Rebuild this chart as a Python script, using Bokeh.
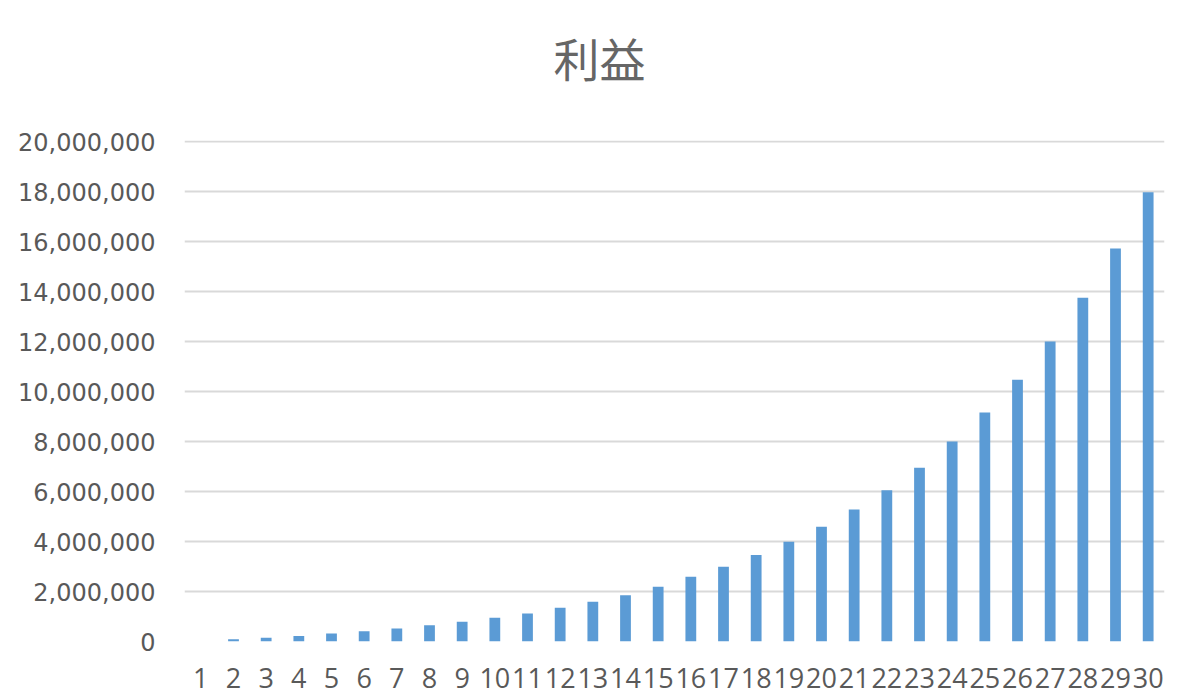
from bokeh.plotting import figure
from bokeh.layouts import column
from bokeh.models import FactorRange, Range1d, FixedTicker, NumeralTickFormatter, ColumnDataSource
from bokeh.core.properties import value
from bokeh.embed import file_html
from bokeh.resources import INLINE

title_text = "利益"
years = [str(i) for i in range(1, 31)]
profit = [0, 90000, 150000, 220000, 320000, 410000, 520000, 650000, 790000, 950000,
          1120000, 1350000, 1590000, 1850000, 2190000, 2590000, 2990000, 3460000, 3990000, 4590000,
          5280000, 6050000, 6950000, 8000000, 9160000, 10470000, 12000000, 13750000, 15720000, 17970000]
y_ticks = [0, 2000000, 4000000, 6000000, 8000000, 10000000, 12000000, 14000000, 16000000, 18000000, 20000000]

# title strip (its own figure; its frame is aligned with the chart frame, 184..1164 px)
head = figure(width=1190, height=100, x_range=Range1d(184, 1164), y_range=Range1d(0, 100),
              output_backend="svg", toolbar_location=None,
              x_axis_location=None, y_axis_location=None,
              min_border_left=0, min_border_right=0, min_border_top=0, min_border_bottom=0)
head.outline_line_color = None
head.xgrid.visible = False
head.ygrid.visible = False
head.text(x=[599], y=[44], text=[title_text], text_align="center", text_baseline="middle",
          text_font=value("Noto Sans CJK JP"), text_font_size="46px", text_color="#666666")

source = ColumnDataSource(dict(x=years, y=profit))

p = figure(width=1190, height=598, x_range=FactorRange(*years, range_padding=0),
           y_range=Range1d(0, 20040000), output_backend="svg", toolbar_location=None,
           min_border_left=184, min_border_right=26, min_border_top=40, min_border_bottom=57)

p.vbar(x="x", top="y", width=0.33, source=source, fill_color="#5B9BD5", line_color=None)

p.outline_line_color = None
p.xgrid.grid_line_color = None
p.ygrid.grid_line_color = "#D9D9D9"
p.ygrid.grid_line_width = 2

p.yaxis.ticker = FixedTicker(ticks=y_ticks)
p.yaxis.formatter = NumeralTickFormatter(format="0,0")
for ax in (p.xaxis[0], p.yaxis[0]):
    ax.axis_line_color = None
    ax.major_tick_line_color = None
    ax.minor_tick_line_color = None
    ax.major_label_text_color = "#595959"
p.yaxis.major_label_text_font = "DejaVu Sans"
p.yaxis.major_label_text_font_size = "24px"
p.yaxis.major_label_standoff = 23
p.xaxis.major_label_text_font = "Open Sans"
p.xaxis.major_label_text_font_size = "27px"
p.xaxis.major_label_standoff = 20

layout = column(head, p, spacing=0)
open("out.html", "w").write(file_html(layout, INLINE))
